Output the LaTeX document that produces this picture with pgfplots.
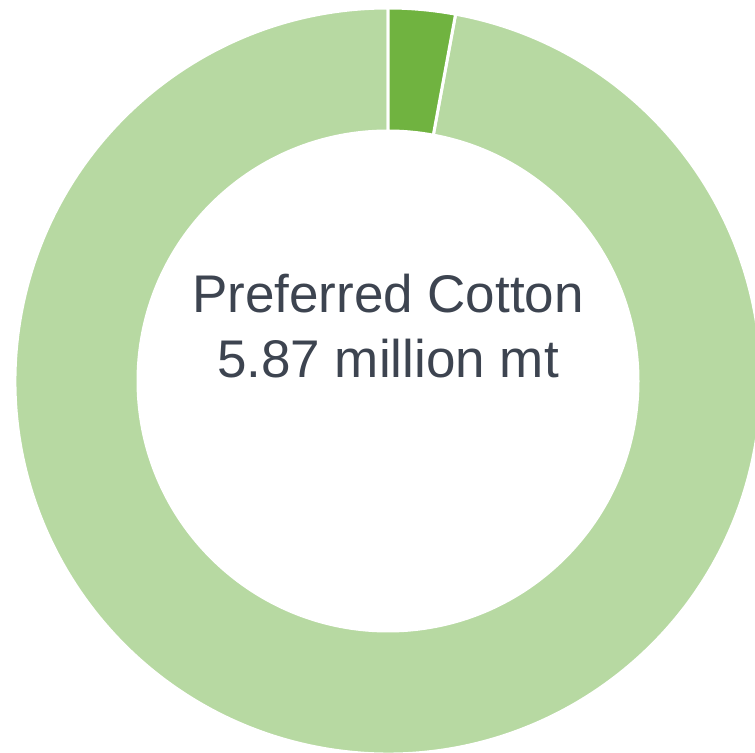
\documentclass[border=0pt]{standalone}
\usepackage{pgfplots}
\pgfplotsset{compat=1.18}
\usepackage{fontspec}
\setmainfont{Liberation Sans}
\definecolor{lightg}{HTML}{B7D9A2}
\definecolor{darkg}{HTML}{70B340}
\definecolor{txt}{HTML}{3D4450}
% shares of the donut (percent)
\def\shareA{2.9}   % dark green slice
\def\shareB{97.1}  % light green slice
\def\cx{388}\def\cy{372}\def\Ro{373}\def\Ri{250}
\begin{document}
\begin{tikzpicture}
\begin{axis}[
  scale only axis, width=755bp, height=753bp,
  xmin=0, xmax=755, ymin=0, ymax=753,
  axis lines=none, ticks=none, clip=true,
]
\pgfmathsetmacro{\aA}{90}
\pgfmathsetmacro{\aB}{90-3.6*\shareA}
\pgfmathsetmacro{\aC}{\aB-3.6*\shareB}
% light green slice
\fill[lightg, draw=white, line width=3bp]
  ({\cx+\Ro*cos(\aB)},{\cy+\Ro*sin(\aB)}) arc[start angle=\aB, end angle=\aC, radius=\Ro]
  -- ({\cx+\Ri*cos(\aC)},{\cy+\Ri*sin(\aC)}) arc[start angle=\aC, end angle=\aB, radius=\Ri] -- cycle;
% dark green slice
\fill[darkg, draw=white, line width=3bp]
  ({\cx+\Ro*cos(\aA)},{\cy+\Ro*sin(\aA)}) arc[start angle=\aA, end angle=\aB, radius=\Ro]
  -- ({\cx+\Ri*cos(\aB)},{\cy+\Ri*sin(\aB)}) arc[start angle=\aB, end angle=\aA, radius=\Ri] -- cycle;
\node[anchor=base, text=txt, font=\fontsize{53bp}{60bp}\selectfont, inner sep=0pt] at (axis cs:388,440) {Preferred Cotton};
\node[anchor=base, text=txt, font=\fontsize{53bp}{60bp}\selectfont, inner sep=0pt] at (axis cs:388,375) {5.87 million mt};
\end{axis}
\pgfresetboundingbox
\path[use as bounding box] (current axis.south west) rectangle (current axis.north east);
\end{tikzpicture}
\end{document}
